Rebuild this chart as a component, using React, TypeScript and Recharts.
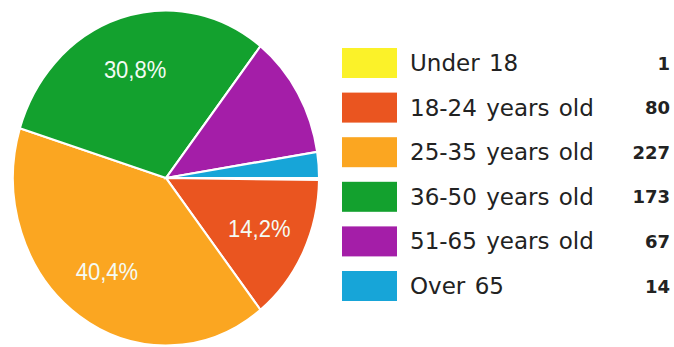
import React from 'react';
import { PieChart, Pie, Cell } from 'recharts';

const categories = ['Under 18', '18-24 years old', '25-35 years old', '36-50 years old', '51-65 years old', 'Over 65'];
const counts = [1, 80, 227, 173, 67, 14];
const colors = ['#fbf229', '#ea5520', '#fba621', '#13a12e', '#a41ea8', '#17a5d8'];

const data = categories.map((name, i) => ({ name, value: counts[i] }));
const total = counts.reduce((a, b) => a + b, 0);

const RAD = Math.PI / 180;

const renderLabel = (props: any) => {
  const { cx, cy, midAngle, outerRadius, value } = props;
  const pct = value / total;
  if (pct < 0.13) return null;
  const r = outerRadius * 0.68;
  const x = cx + r * Math.cos(-midAngle * RAD);
  const y = cy + r * Math.sin(-midAngle * RAD);
  const text = (pct * 100).toFixed(1).replace('.', ',') + '%';
  return (
    <text x={x} y={y} fill="#f4fbf4" textAnchor="middle" dominantBaseline="central"
      fontFamily="Arial, 'Liberation Sans', sans-serif" fontSize={22}>
      {text}
    </text>
  );
};

export default function App() {
  const rowY = (i: number) => 63 + i * 44.6;
  return (
    <div style={{ position: 'absolute', left: 0, top: 0, width: 674, height: 347, background: '#fff', overflow: 'hidden' }}>
      <div style={{ position: 'absolute', left: 0, top: 0, width: 340, height: 347, transform: 'scaleY(1.095)', transformOrigin: '166px 178px' }}>
        <PieChart width={340} height={347} margin={{ top: 0, right: 0, bottom: 0, left: 0 }}>
          <Pie data={data} dataKey="value" nameKey="name" cx={166} cy={178} outerRadius={153}
            startAngle={0} endAngle={-360} stroke="#ffffff" strokeWidth={2}
            isAnimationActive={false} label={renderLabel} labelLine={false}>
            {data.map((d, i) => <Cell key={d.name} fill={colors[i]} />)}
          </Pie>
        </PieChart>
      </div>
      <svg style={{ position: 'absolute', left: 0, top: 0 }} width={674} height={347}>
        {categories.map((c, i) => (
          <g key={c}>
            <rect x={342} y={rowY(i) - 15} width={55} height={30} fill={colors[i]} />
            <text x={410} y={rowY(i)} dominantBaseline="central" fontFamily="'DejaVu Sans', Verdana, sans-serif"
              fontSize={23} fill="#222" wordSpacing={2}>{c}</text>
            <text x={670} y={rowY(i)} dominantBaseline="central" textAnchor="end" fontFamily="'DejaVu Sans', Verdana, sans-serif"
              fontSize={18} fontWeight="bold" fill="#222">{counts[i]}</text>
          </g>
        ))}
      </svg>
    </div>
  );
}
